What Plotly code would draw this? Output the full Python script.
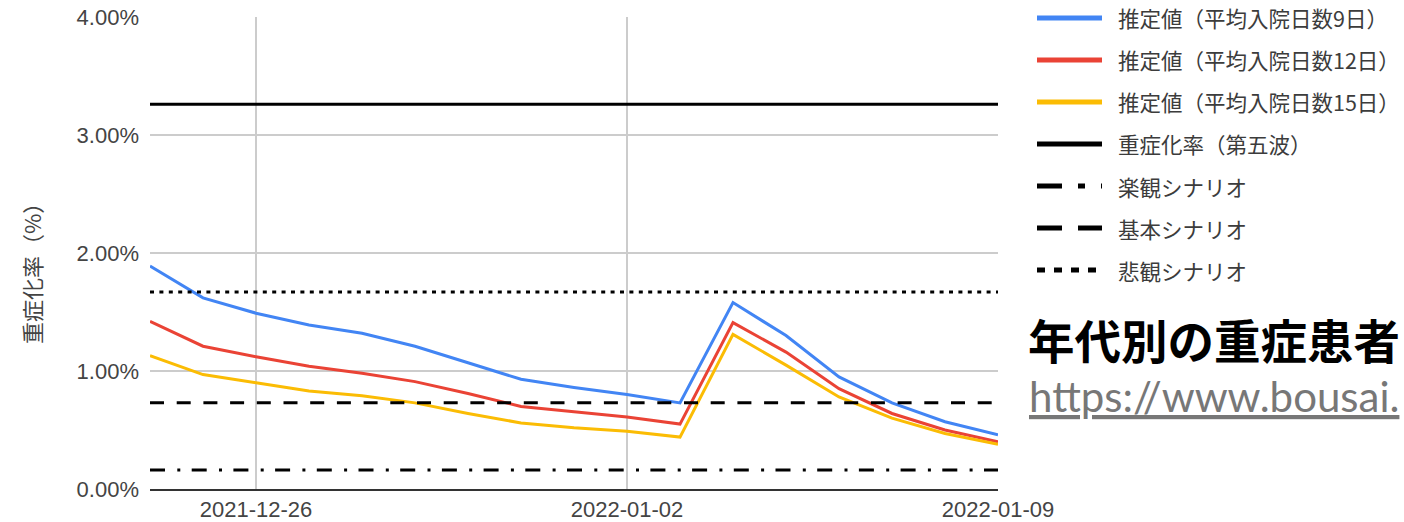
import plotly.graph_objects as go

# ---- data -------------------------------------------------------------
dates = [
    "2021-12-24", "2021-12-25", "2021-12-26", "2021-12-27", "2021-12-28",
    "2021-12-29", "2021-12-30", "2021-12-31", "2022-01-01", "2022-01-02",
    "2022-01-03", "2022-01-04", "2022-01-05", "2022-01-06", "2022-01-07",
    "2022-01-08", "2022-01-09",
]
# estimated severe-case rate (%), by average length of hospital stay
est_stay_9 = [1.89, 1.62, 1.49, 1.39, 1.32, 1.21, 1.07, 0.93, 0.86, 0.80,
              0.73, 1.58, 1.30, 0.95, 0.73, 0.57, 0.46]
est_stay_12 = [1.42, 1.21, 1.12, 1.04, 0.98, 0.91, 0.81, 0.70, 0.655, 0.61,
               0.55, 1.41, 1.16, 0.85, 0.64, 0.50, 0.40]
est_stay_15 = [1.13, 0.97, 0.90, 0.83, 0.79, 0.73, 0.64, 0.56, 0.52, 0.49,
               0.44, 1.31, 1.05, 0.78, 0.60, 0.47, 0.38]

# reference levels (%)
wave5_rate = 3.26
optimistic_rate = 0.16
base_rate = 0.73
pessimistic_rate = 1.67

x_tick_vals = ["2021-12-26", "2022-01-02", "2022-01-09"]
x_tick_text = ["2021-12-26", "2022-01-02", "2022-01-09"]
y_tick_vals = [0, 1, 2, 3, 4]
y_tick_text = ["0.00%", "1.00%", "2.00%", "3.00%", "4.00%"]

series_names = [
    "推定値（平均入院日数9日）",
    "推定値（平均入院日数12日）",
    "推定値（平均入院日数15日）",
    "重症化率（第五波）",
    "楽観シナリオ",
    "基本シナリオ",
    "悲観シナリオ",
]

# ---- styling ----------------------------------------------------------
W, H = 1404, 522
ML, MR, MT, MB = 150, 406, 17, 33
PW, PH = W - ML - MR, H - MT - MB

colors = ["#4285f4", "#ea4335", "#fbbc04", "#000000", "#000000", "#000000", "#000000"]
plot_dash = ["solid", "solid", "solid", "solid",
             "15px,12.3px,3px,11.4px", "14px,12.7px", "4px,5.4px"]
legend_dash = ["solid", "solid", "solid", "solid",
               "25px,16px,7px,16px", "25px,16px", "8px,9px"]

TICK_FONT = dict(family="Arial, 'Liberation Sans', sans-serif", size=22, color="#444444")
JP_FONT = "'Noto Sans CJK JP', sans-serif"


def px_x(px):
    return (px - ML) / PW


def px_y(py):
    return (H - MB - py) / PH


fig = go.Figure()

estimates = [est_stay_9, est_stay_12, est_stay_15]
for i, ys in enumerate(estimates):
    fig.add_trace(go.Scatter(
        x=dates, y=ys, mode="lines", name=series_names[i],
        line=dict(color=colors[i], width=3, dash=plot_dash[i]),
        showlegend=False,
    ))

levels = [wave5_rate, optimistic_rate, base_rate, pessimistic_rate]
for j, v in enumerate(levels):
    i = 3 + j
    fig.add_trace(go.Scatter(
        x=[dates[0], dates[-1]], y=[v, v], mode="lines", name=series_names[i],
        line=dict(color=colors[i], width=3, dash=plot_dash[i]),
        showlegend=False,
    ))

# legend drawn beside the plot
shapes = []
annotations = []
for i, name in enumerate(series_names):
    row_y = 18 + 42 * i
    shapes.append(dict(
        type="line", xref="paper", yref="paper",
        x0=px_x(1037), x1=px_x(1102), y0=px_y(row_y), y1=px_y(row_y),
        line=dict(color=colors[i], width=5, dash=legend_dash[i]),
    ))
    annotations.append(dict(
        xref="paper", yref="paper", x=px_x(1116), y=px_y(row_y),
        xanchor="left", yanchor="middle", showarrow=False, text=name,
        font=dict(family=JP_FONT, size=21.5, color="#3c3c3c"),
    ))

# y axis title
annotations.append(dict(
    xref="paper", yref="paper", x=px_x(31), y=px_y(268),
    xanchor="center", yanchor="middle", showarrow=False, textangle=-90,
    text="重症化率（%）",
    font=dict(family=JP_FONT, size=22, color="#444444"),
))

# page heading and link text next to the chart
annotations.append(dict(
    xref="paper", yref="paper", x=px_x(1026), y=px_y(338),
    xanchor="left", yanchor="middle", showarrow=False,
    text="<b>年代別の重症患者</b>",
    font=dict(family=JP_FONT, size=46.5, color="#000000"),
))
annotations.append(dict(
    xref="paper", yref="paper", x=px_x(1027), y=px_y(396),
    xanchor="left", yanchor="middle", showarrow=False,
    text="<u>https://www.bousai.</u>",
    font=dict(family="Lato, 'Open Sans', sans-serif", size=42, color="#777777"),
))

fig.update_layout(
    width=W, height=H,
    margin=dict(l=ML, r=MR, t=MT, b=MB, pad=0),
    paper_bgcolor="#ffffff", plot_bgcolor="#ffffff",
    showlegend=False,
    shapes=shapes,
    annotations=annotations,
    xaxis=dict(
        type="date",
        range=[dates[0], dates[-1]],
        tickmode="array", tickvals=x_tick_vals, ticktext=x_tick_text,
        showgrid=True, gridcolor="#cccccc", gridwidth=1.5,
        showline=True, linecolor="#333333", linewidth=2,
        zeroline=False, ticks="", tickfont=TICK_FONT,
        ticklabelstandoff=0, automargin=False,
    ),
    yaxis=dict(
        range=[0, 4],
        tickmode="array", tickvals=y_tick_vals, ticktext=y_tick_text,
        showgrid=True, gridcolor="#cccccc", gridwidth=1.5,
        showline=False, zeroline=False, ticks="", tickfont=TICK_FONT,
        ticklabelstandoff=10, automargin=False,
    ),
)

fig.write_html("out.html")
